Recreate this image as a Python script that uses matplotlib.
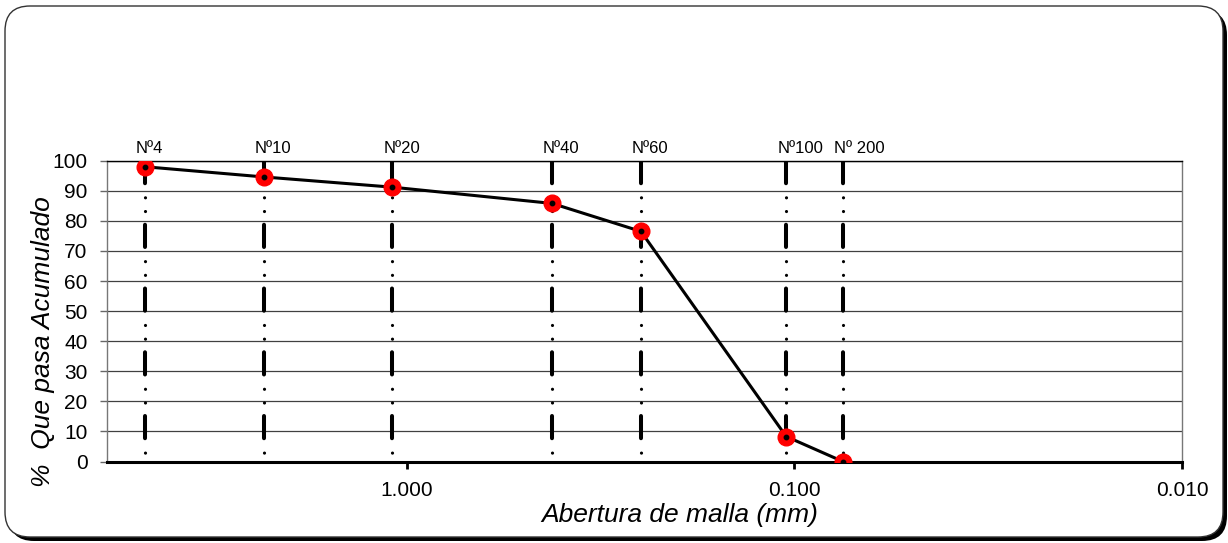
import matplotlib
matplotlib.use("Agg")
import matplotlib.pyplot as plt
from matplotlib.patches import FancyBboxPatch
from matplotlib.transforms import IdentityTransform
from matplotlib.ticker import FixedLocator, FormatStrFormatter, NullLocator

plt.rcParams['font.family'] = ['Liberation Sans', 'DejaVu Sans']
plt.rcParams['lines.scale_dashes'] = False

# sieve analysis data
sieve_names = ['Nº4', 'Nº10', 'Nº20', 'Nº40', 'Nº60', 'Nº100', 'Nº 200']
opening_mm = [4.75, 2.34, 1.09, 0.422, 0.249, 0.105, 0.075]
percent_passing = [98.0, 94.6, 91.2, 85.8, 76.5, 8.3, 0.0]
x_ticks = [1.0, 0.1, 0.01]
y_ticks = list(range(0, 101, 10))

W, H = 1228, 543
fig = plt.figure(figsize=(W / 100, H / 100), dpi=100)

# rounded frame with a shadow, in pixel coords
shadow = FancyBboxPatch((9, 2), 1218, 531, boxstyle="round,pad=0,rounding_size=25",
                        transform=IdentityTransform(), facecolor='black', edgecolor='black',
                        lw=0, zorder=-10)
frame = FancyBboxPatch((5, 6), 1218, 531, boxstyle="round,pad=0,rounding_size=25",
                       transform=IdentityTransform(), facecolor='white', edgecolor='#333333',
                       lw=1, zorder=-9)
fig.add_artist(shadow)
fig.add_artist(frame)

ax = fig.add_axes([107 / W, 1 - 461.5 / H, 1075 / W, 300.8 / H])
ax.set_facecolor('white')
ax.set_xscale('log')
ax.set_xlim(5.94, 0.01)
ax.set_ylim(0, 100)

# horizontal grid
ax.yaxis.set_major_locator(FixedLocator(y_ticks))
ax.grid(axis='y', color='#404040', lw=0.9)
ax.grid(axis='x', visible=False)

# sieve vertical lines: thick dashes + two dots
for x in opening_mm:
    ax.plot([x, x], [100, 0], color='black', lw=2.9, solid_capstyle='round',
            dash_capstyle='round', linestyle=(0, (16, 29.9)), zorder=2)
    ax.plot([x, x], [100, 0], color='black', lw=2.3, dash_capstyle='round',
            linestyle=(19.8, (0.01, 9.86, 0.01, 36.07)), zorder=2)

for name, x in zip(sieve_names, opening_mm):
    ax.annotate(name, (x, 100), xytext=(-6.5, 3.5), textcoords='offset points',
                ha='left', va='bottom', fontsize=12, annotation_clip=False)

# grading curve
ax.plot(opening_mm, percent_passing, color='black', lw=2.2, zorder=3)
ax.plot(opening_mm, percent_passing, 'o', color='#ff0000', ms=12, mec='#ff0000', zorder=4)
ax.plot(opening_mm, percent_passing, 'o', color='black', ms=3.2, zorder=5)

ax.xaxis.set_major_locator(FixedLocator(x_ticks))
ax.xaxis.set_minor_locator(NullLocator())
ax.xaxis.set_major_formatter(FormatStrFormatter('%.3f'))

ax.tick_params(axis='x', direction='out', length=5, width=2, color='black',
               labelsize=15, pad=9)
ax.tick_params(axis='y', direction='out', length=5, width=1, color='#666666',
               labelsize=15, pad=9)

ax.spines['bottom'].set_linewidth(2.2)
ax.spines['top'].set_linewidth(1.0)
ax.spines['left'].set_color('#777777')
ax.spines['left'].set_linewidth(1.0)
ax.spines['right'].set_color('#777777')
ax.spines['right'].set_linewidth(1.0)

fig.text(680 / W, 1 - 515 / H, 'Abertura de malla (mm)', fontsize=19, style='italic',
         ha='center', va='center')
fig.text(43 / W, 1 - 342 / H, '%  Que pasa Acumulado', fontsize=19, style='italic',
         rotation=90, ha='center', va='center')

fig.savefig('out.png', dpi=100)
